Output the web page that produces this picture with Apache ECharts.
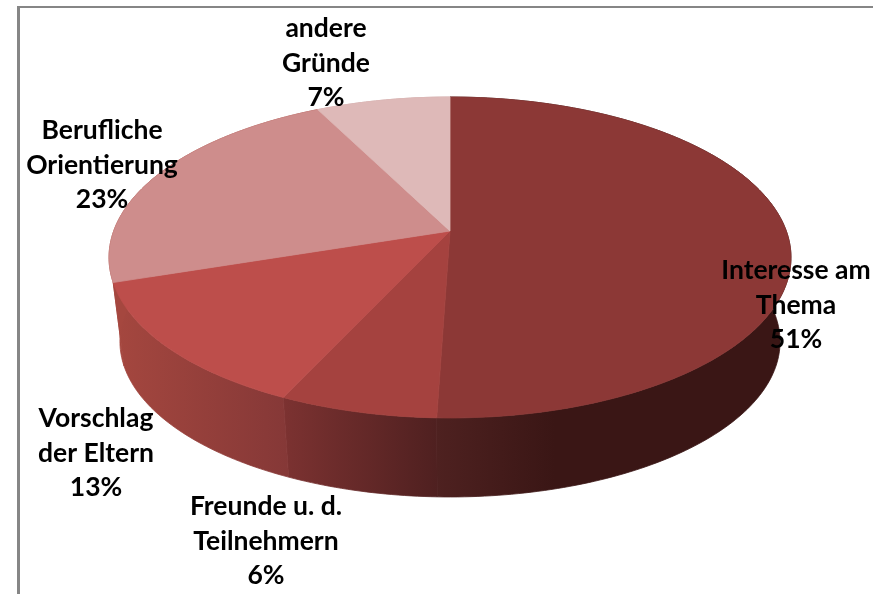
<!DOCTYPE html>
<html><head><meta charset="utf-8">
<style>html,body{margin:0;padding:0;background:#fff}#c{width:873px;height:594px}</style>
<script src="https://cdn.jsdelivr.net/npm/echarts@6/dist/echarts.min.js"></script>
</head><body><div id="c"></div>
<script>
// Data (slices clockwise from 12 o'clock)
const categories = ['Interesse am\nThema', 'Freunde u. d.\nTeilnehmern', 'Vorschlag\nder Eltern', 'Berufliche\nOrientierung', 'andere\nGründe'];
const shares = [50.5, 6.4, 13.0, 22.6, 7.45];

// Styles and layout, kept apart from the data
const topColors = ['#8C3836', '#A5423F', '#BD4E4B', '#CE8D8C', '#DEB9B8'];
const wallStops = [['#4E2120', '#3A1615', '#3A1615', '#3A1615'], ['#7C3231', '#4F2020'], ['#A5473F', '#853837'], ['#A5473F', '#A5473F'], ['#C9A5A4', '#C9A5A4']];
const labelCentres = [[796, 305], [266, 541], [96, 453], [102, 165], [326, 63]];
const apex = [450, 231], baseApex = [450, 316], baseScale = 0.968;
const persp = 0.165, depthK = 156.1, widthK = 336.3;

const total = shares.reduce((a, b) => a + b, 0);
let acc = 0;
const slices = shares.map(v => { const s = acc / total; acc += v; return [v, s, acc / total]; });

// Perspective projection of a point on the unit circle onto the disc plane
function project(frac, origin, scale) {
  const t = frac * 2 * Math.PI, u = Math.sin(t), v = Math.cos(t), w = 1 + persp * v;
  return [origin[0] + scale * widthK * u / w, origin[1] - scale * depthK * v / w];
}
function arc(s, e, origin, scale) {
  const n = Math.max(4, Math.ceil((e - s) * 360)), pts = [];
  for (let i = 0; i <= n; i++) pts.push(project(s + (e - s) * i / n, origin, scale));
  return pts;
}
function poly(points, fill) {
  return { type: 'polygon', shape: { points }, style: { fill, stroke: fill, lineWidth: 0.8 } };
}

const option = {
  animation: false,
  backgroundColor: '#fff',
  graphic: [
    { type: 'line', z: 1, shape: { x1: 18, y1: 7, x2: 873, y2: 7 }, style: { stroke: '#868686', lineWidth: 2 } },
    { type: 'line', z: 1, shape: { x1: 18.5, y1: 6, x2: 18.5, y2: 594 }, style: { stroke: '#868686', lineWidth: 3 } }
  ],
  series: [
    { // side walls
      type: 'custom', coordinateSystem: 'none', z: 2, silent: true, data: slices,
      renderItem: (p, api) => {
        const i = p.dataIndex, s = api.value(1), e = api.value(2);
        const top = arc(s, e, apex, 1), bot = arc(s, e, baseApex, baseScale).reverse();
        const all = top.concat(bot), xs = all.map(q => q[0]);
        const stops = wallStops[i];
        return poly(all, { type: 'linear', global: true, x: Math.min(...xs), y: 0, x2: Math.max(...xs), y2: 0,
          colorStops: stops.map((color, k) => ({ offset: k / (stops.length - 1), color })) });
      }
    },
    { // top face
      type: 'custom', coordinateSystem: 'none', z: 3, silent: true, data: slices,
      renderItem: (p, api) => {
        const i = p.dataIndex, s = api.value(1), e = api.value(2);
        return poly([apex].concat(arc(s, e, apex, 1)), topColors[i]);
      }
    },
    { // labels
      type: 'custom', coordinateSystem: 'none', z: 4, silent: true, data: slices,
      renderItem: (p, api) => {
        const i = p.dataIndex;
        return { type: 'text', style: {
          x: labelCentres[i][0], y: labelCentres[i][1],
          text: categories[i] + '\n' + Math.round(api.value(0)) + '%',
          align: 'center', verticalAlign: 'middle',
          font: 'bold 26.5px Lato', lineHeight: 34.5, fill: '#000'
        } };
      }
    }
  ]
};
echarts.init(document.getElementById('c'), null, { renderer: 'canvas' }).setOption(option);
</script></body></html>
